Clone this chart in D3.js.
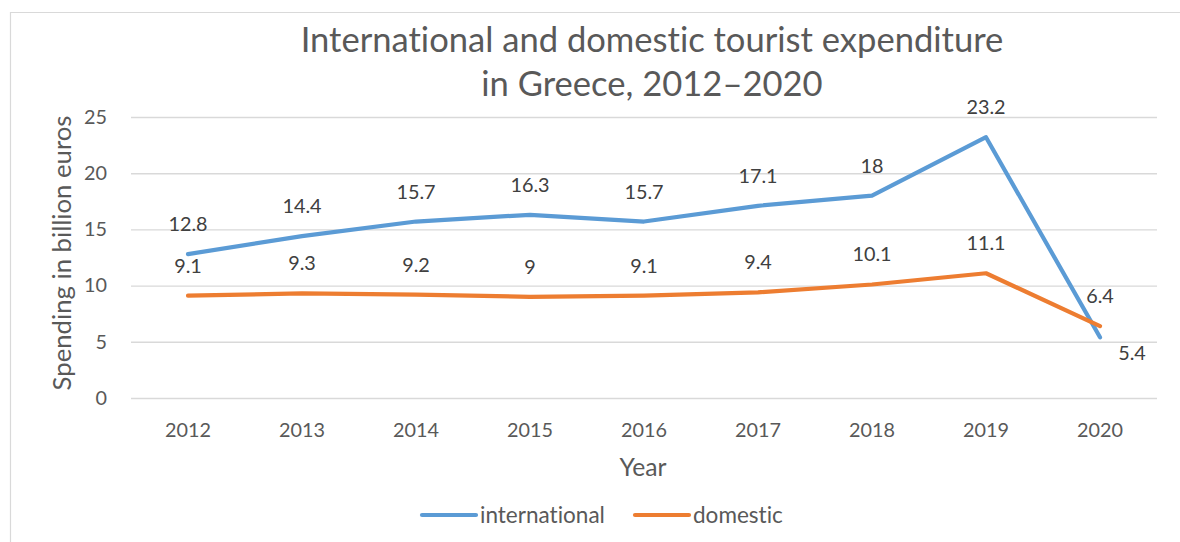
<!DOCTYPE html>
<html>
<head>
<meta charset="utf-8">
<script src="https://cdn.jsdelivr.net/npm/d3@7"></script>
<style>
  html, body { margin: 0; padding: 0; background: #fff; }
  svg { display: block; font-family: Lato, "Open Sans", sans-serif; font-variant-ligatures: none; }
</style>
</head>
<body>
<svg id="chart" width="1180" height="542"></svg>
<script>
// Tourist expenditure in Greece, billion euros
const years = ["2012", "2013", "2014", "2015", "2016", "2017", "2018", "2019", "2020"];
const international = [12.8, 14.4, 15.7, 16.3, 15.7, 17.1, 18, 23.2, 5.4];
const domestic = [9.1, 9.3, 9.2, 9, 9.1, 9.4, 10.1, 11.1, 6.4];
const yTicks = [0, 5, 10, 15, 20, 25];
const seriesNames = ["international", "domestic"];
const seriesColors = ["#5B9BD5", "#ED7D31"];

const svg = d3.select("#chart");
const plot = { left: 131, right: 1157, top: 117, bottom: 398 };

const x = d3.scaleBand().domain(years).range([plot.left, plot.right]);
const y = d3.scaleLinear().domain([0, 25]).range([plot.bottom, plot.top]);
const cx = d => x(d) + x.bandwidth() / 2;

// font size that makes a sample string span the given width
function sizeFor(sample, width, base) {
  const t = svg.append("text").style("font-size", base + "px").text(sample);
  const w = t.node().getComputedTextLength();
  t.remove();
  return base * width / w;
}
const tickSize = sizeFor("2012", 46, 20);
const legendSize = sizeFor("international", 125, 20);

// outer frame
svg.append("path")
  .attr("d", "M10.5,545 V12.5 H1185")
  .attr("fill", "none")
  .attr("stroke", "#D9D9D9")
  .attr("stroke-width", 1.2);

// gridlines and y tick labels
const yAxis = d3.axisLeft(y).tickValues(yTicks).tickSize(-(plot.right - plot.left)).tickPadding(24);
const gy = svg.append("g").attr("transform", `translate(${plot.left},0)`).call(yAxis);
gy.select(".domain").remove();
gy.selectAll(".tick line").attr("stroke", "#D9D9D9").attr("stroke-width", 1.4);
gy.selectAll(".tick text")
  .attr("fill", "#595959")
  .style("font-size", tickSize + "px")
  .style("font-family", "Lato, sans-serif");

// x tick labels
const xAxis = d3.axisBottom(x).tickSize(0).tickPadding(0);
const gx = svg.append("g").attr("transform", `translate(0,${plot.bottom})`).call(xAxis);
gx.select(".domain").remove();
gx.selectAll(".tick text")
  .attr("fill", "#595959")
  .attr("dy", null)
  .attr("y", 39)
  .style("font-size", tickSize + "px")
  .style("font-family", "Lato, sans-serif");

// series lines
const line = d3.line().x((d, i) => cx(years[i])).y(d => y(d));
[international, domestic].forEach((vals, k) => {
  svg.append("path")
    .datum(vals)
    .attr("d", line)
    .attr("fill", "none")
    .attr("stroke", seriesColors[k])
    .attr("stroke-width", 4.2)
    .attr("stroke-linejoin", "round")
    .attr("stroke-linecap", "round");
});

// data labels
function labels(vals, placeBelowRightLast) {
  svg.append("g").selectAll("text")
    .data(vals)
    .join("text")
    .attr("x", (d, i) => cx(years[i]) + (placeBelowRightLast && i === vals.length - 1 ? 32 : 0))
    .attr("y", (d, i) => y(d) + (placeBelowRightLast && i === vals.length - 1 ? 23 : -23))
    .attr("text-anchor", "middle")
    .attr("fill", "#404040")
    .style("font-size", tickSize + "px")
    .text(d => d);
}
labels(international, true);
labels(domestic, false);

// title
const title = svg.append("text")
  .attr("text-anchor", "middle")
  .attr("fill", "#595959")
  .style("font-size", sizeFor("International and domestic tourist expenditure", 703, 33) + "px");
title.append("tspan").attr("x", 652).attr("y", 52).text("International and domestic tourist expenditure");
title.append("tspan").attr("x", 652).attr("y", 96).text("in Greece, 2012–2020");

// axis titles
svg.append("text")
  .attr("transform", "translate(71,253) rotate(-90)")
  .attr("text-anchor", "middle")
  .attr("fill", "#595959")
  .style("font-size", sizeFor("Spending in billion euros", 275, 22) + "px")
  .text("Spending in billion euros");

svg.append("text")
  .attr("x", 643)
  .attr("y", 476)
  .attr("text-anchor", "middle")
  .attr("fill", "#595959")
  .style("font-size", sizeFor("Year", 47, 23) + "px")
  .text("Year");

// legend
const legendItems = [
  { name: seriesNames[0], color: seriesColors[0], x1: 422, x2: 476, tx: 480 },
  { name: seriesNames[1], color: seriesColors[1], x1: 635, x2: 689, tx: 693 }
];
const lg = svg.append("g");
legendItems.forEach(it => {
  lg.append("line")
    .attr("x1", it.x1).attr("x2", it.x2)
    .attr("y1", 515).attr("y2", 515)
    .attr("stroke", it.color)
    .attr("stroke-width", 4.2)
    .attr("stroke-linecap", "round");
  lg.append("text")
    .attr("x", it.tx).attr("y", 523)
    .attr("fill", "#595959")
    .style("font-size", legendSize + "px")
    .text(it.name);
});
</script>
</body>
</html>
